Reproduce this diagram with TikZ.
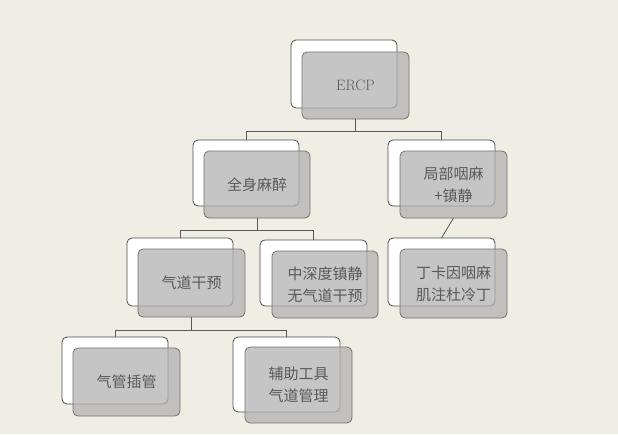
\documentclass[tikz,border=0pt]{standalone}
\usepackage{fontspec}
\newfontfamily\cjk{Noto Sans CJK SC}
\begin{document}
\begin{tikzpicture}[x=1pt,y=-1pt,
  backbox/.style={draw=black!70,fill=white,rounded corners=5pt,line width=0.8pt},
  frontbox/.style={draw=black!55,fill=black!30,fill opacity=0.75,rounded corners=5pt,line width=0.8pt},
  lbl/.style={text=black!65,font=\cjk\fontsize{15}{22}\selectfont,align=center},
  conn/.style={draw=black!65,line width=0.8pt}]
\fill[color={rgb,255:red,239;green,237;blue,228}] (0,0) rectangle (618,434);
\useasboundingbox (0,0) rectangle (618,434);
% helper macro for boxes
\newcommand{\dbox}[9]{%
  \draw[backbox] (#2,#3) rectangle (#4,#5);
  \draw[frontbox] (#6,#7) rectangle (#8,#9);
  \coordinate (#1) at ({(#6+#8)/2},{(#7+#9)/2});
  \coordinate (#1-t) at ({(#2+#4)/2},#3);
  \coordinate (#1-b) at ({(#6+#8)/2},#9);}
\dbox{e}{291}{40}{397}{108}{302}{52}{409}{119}
\dbox{q}{193}{140}{299}{206}{204}{151}{310}{218}
\dbox{j}{388}{140}{495}{206}{400}{151}{507}{218}
\dbox{g}{127}{238}{233}{306}{138}{249}{245}{317}
\dbox{z}{260}{240}{367}{306}{272}{251}{378}{318}
\dbox{d}{388}{238}{495}{306}{400}{249}{507}{318}
\dbox{c}{62}{337}{168}{404}{73}{348}{180}{416}
\dbox{f}{233}{337}{340}{412}{245}{347}{352}{423}
\node[lbl,font=\fontsize{15}{18}\selectfont] (ne) at (e) {ERCP};
\node[lbl] (nq) at (q) {全身麻醉};
\node[lbl] (nj) at (j) {局部咽麻\\+镇静};
\node[lbl] (ng) at (g) {气道干预};
\node[lbl] (nz) at (z) {中深度镇静\\无气道干预};
\node[lbl] (nd) at (d) {丁卡因咽麻\\肌注杜冷丁};
\node[lbl] (nc) at (c) {气管插管};
\node[lbl] (nf) at (f) {辅助工具\\气道管理};
\draw[conn] (e-b) -- (e-b |- 0,131) -| (q-t);
\draw[conn] (e-b |- 0,131) -| (j-t);
\draw[conn] (q-b) -- (q-b |- 0,230) -| (g-t);
\draw[conn] (q-b |- 0,230) -| (z-t);
\draw[conn] (j-b) -- (d-t);
\draw[conn] (g-b) -- (g-b |- 0,330) -| (c-t);
\draw[conn] (g-b |- 0,330) -| (f-t);
\end{tikzpicture}
\end{document}
